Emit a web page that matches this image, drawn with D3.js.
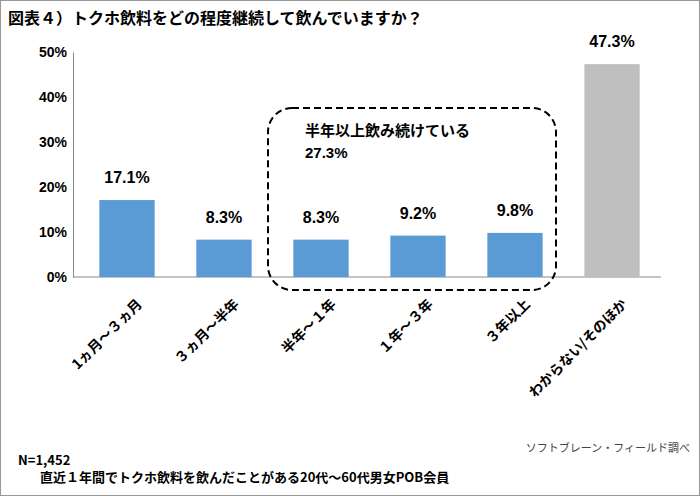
<!DOCTYPE html>
<html><head><meta charset="utf-8">
<script src="https://cdn.jsdelivr.net/npm/d3@7"></script>
<style>body{margin:0;background:#fff;font-family:"Noto Sans CJK JP","Noto Sans",sans-serif;}</style>
</head><body>
<svg id="chart" width="700" height="496"></svg>
<script>
const categories = ['1ヵ月～３ヵ月', '３ヵ月～半年', '半年～１年', '１年～３年', '３年以上', 'わからない/そのほか'];
const values = [17.1, 8.3, 8.3, 9.2, 9.8, 47.3];
const yTicks = [0, 10, 20, 30, 40, 50];

const svg = d3.select('#chart');
svg.append('rect').attr('x', 0.5).attr('y', 0.5).attr('width', 699).attr('height', 495)
  .attr('fill', 'none').attr('stroke', '#999');

svg.append('text').attr('x', 8).attr('y', 24).attr('font-size', 16).attr('font-weight', 'bold')
  .text('図表４）トクホ飲料をどの程度継続して飲んでいますか？');

const x = d3.scaleBand().domain(categories).range([78, 661]).paddingInner(0.43).paddingOuter(0.22);
const y = d3.scaleLinear().domain([0, 50]).range([277, 52]);

const g = svg.append('g');
g.append('g').attr('transform', 'translate(73,0)')
  .call(d3.axisLeft(y).tickValues(yTicks).tickFormat(d => d + '%').tickSize(0).tickPadding(6))
  .call(a => a.select('.domain').attr('stroke', '#888'))
  .selectAll('text').attr('font-size', 14).attr('font-weight', 'bold').attr('fill', '#000')
  .attr('font-family', '"Liberation Sans",Arial,sans-serif');
g.append('line').attr('x1', 73).attr('x2', 661).attr('y1', y(0)).attr('y2', y(0)).attr('stroke', '#888');

g.selectAll('.bar').data(values).enter().append('rect')
  .attr('x', (d, i) => x(categories[i])).attr('width', x.bandwidth())
  .attr('y', d => y(d)).attr('height', d => y(0) - y(d))
  .attr('fill', (d, i) => i === 5 ? '#bfbfbf' : '#5b9bd5');

g.selectAll('.val').data(values).enter().append('text')
  .attr('x', (d, i) => x(categories[i]) + x.bandwidth() / 2).attr('y', d => y(d) - 17)
  .attr('text-anchor', 'middle').attr('font-size', 16).attr('font-weight', 'bold')
  .attr('font-family', '"Liberation Sans",Arial,sans-serif')
  .text(d => d.toFixed(1) + '%');

g.selectAll('.cat').data(categories).enter().append('text')
  .attr('transform', d => `translate(${x(d) + x.bandwidth() / 2 + 16},${y(0) + 28}) rotate(-45)`)
  .attr('text-anchor', 'end').attr('font-size', 14).attr('font-weight', 'bold')
  .text(d => d);

svg.append('rect').attr('x', 268).attr('y', 108).attr('width', 288).attr('height', 182)
  .attr('rx', 24).attr('fill', 'none').attr('stroke', '#000').attr('stroke-width', 2)
  .attr('stroke-dasharray', '7,4');
svg.append('text').attr('x', 305).attr('y', 136).attr('font-size', 15).attr('font-weight', 'bold')
  .text('半年以上飲み続けている');
svg.append('text').attr('x', 305).attr('y', 158).attr('font-size', 15).attr('font-weight', 'bold')
  .attr('font-family', '"Liberation Sans",Arial,sans-serif').text('27.3%');

svg.append('text').attr('x', 690).attr('y', 452).attr('text-anchor', 'end').attr('font-size', 11)
  .attr('fill', '#444').text('ソフトブレーン・フィールド調べ');
svg.append('text').attr('x', 18).attr('y', 465).attr('font-size', 13).attr('font-weight', 'bold')
  .text('N=1,452');
svg.append('text').attr('x', 40).attr('y', 482).attr('font-size', 13).attr('font-weight', 'bold')
  .text('直近１年間でトクホ飲料を飲んだことがある20代～60代男女POB会員');
</script>
</body></html>
